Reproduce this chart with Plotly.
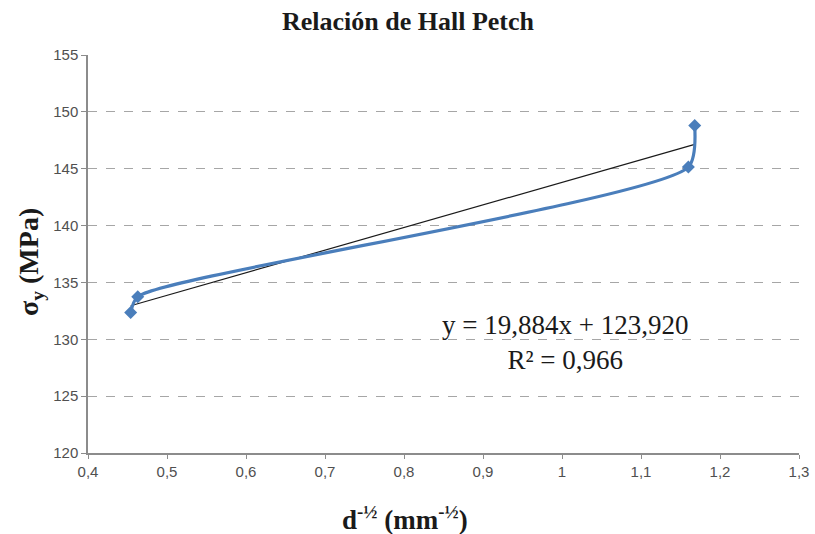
import plotly.graph_objects as go

# Data
x_vals = [0.454, 0.463, 1.160, 1.168]
y_vals = [132.35, 133.75, 145.15, 148.8]

# Trendline coefficients (as printed on chart)
slope = 19.884
intercept = 123.920
r2 = 0.966

x_ticks = [0.4, 0.5, 0.6, 0.7, 0.8, 0.9, 1.0, 1.1, 1.2, 1.3]
y_ticks = [120, 125, 130, 135, 140, 145, 150, 155]

trend_x = [min(x_vals), max(x_vals)]
trend_y = [slope * v + intercept for v in trend_x]

fig = go.Figure()
fig.add_trace(go.Scatter(
    x=trend_x, y=trend_y, mode="lines",
    line=dict(color="#1a1a1a", width=1.2), showlegend=False, hoverinfo="skip"))
fig.add_trace(go.Scatter(
    x=x_vals, y=y_vals, mode="lines+markers",
    line=dict(color="#4a7ebb", width=3.2, shape="spline", smoothing=0.65),
    marker=dict(symbol="diamond", size=10, color="#4a7ebb"),
    showlegend=False))

serif = "Liberation Serif, Times New Roman, serif"
sans = "Liberation Sans, Arial, sans-serif"

W, H = 815, 534
L, R, T, B = 88, 16, 55, 81
pw, ph = W - L - R, H - T - B

fig.update_layout(
    width=W, height=H,
    margin=dict(l=L, r=R, t=T, b=B),
    paper_bgcolor="white", plot_bgcolor="white",
    separators=",.",
    title=dict(text="<b>Relación de Hall Petch</b>", x=408 / W, xanchor="center",
               y=1 - 21 / H, yanchor="middle", yref="container",
               font=dict(family=serif, size=26, color="#1a1a1a")),
    xaxis=dict(range=[0.4, 1.3], tickvals=x_ticks, showgrid=False,
               showline=True, linecolor="#8c8c8c", linewidth=1.5,
               ticks="outside", ticklen=4, tickcolor="#8c8c8c",
               tickfont=dict(family=sans, size=15, color="#505050"),
               zeroline=False, automargin=False),
    yaxis=dict(range=[120, 155], tickvals=y_ticks, showgrid=True,
               gridcolor="#a6a6a6", griddash="dash", gridwidth=1,
               showline=True, linecolor="#8c8c8c", linewidth=1.5,
               ticks="outside", ticklen=5, tickcolor="#8c8c8c",
               tickfont=dict(family=sans, size=15, color="#505050"),
               zeroline=False, automargin=False),
)

# Axis titles
fig.add_annotation(
    x=(405 - L) / pw, y=-(518 - (T + ph)) / ph, xref="paper", yref="paper",
    xanchor="center", yanchor="middle", showarrow=False,
    text="<b>d<sup>-½</sup> (mm<sup>-½</sup>)</b>",
    font=dict(family=serif, size=27, color="#1a1a1a"))
fig.add_annotation(
    x=(30 - L) / pw, y=((T + ph) - 262) / ph,
    xref="paper", yref="paper", textangle=-90,
    xanchor="center", yanchor="middle", showarrow=False,
    text="<b>σ<sub>y</sub> (MPa)</b>",
    font=dict(family=serif, size=28, color="#1a1a1a"))

fig.add_annotation(
    x=1.004, y=129.7, xref="x", yref="y", showarrow=False,
    text=f"y = {slope:.3f}x + {intercept:.3f}".replace(".", ",") + "<br>" + f"R² = {r2:.3f}".replace(".", ","),
    font=dict(family=serif, size=27, color="#1a1a1a"), align="center")

# remove the default page margin so the figure fills the window exactly; hide the toolbar
fig.write_html("out.html", config={"displayModeBar": False},
               post_script="document.body.style.margin='0';")
